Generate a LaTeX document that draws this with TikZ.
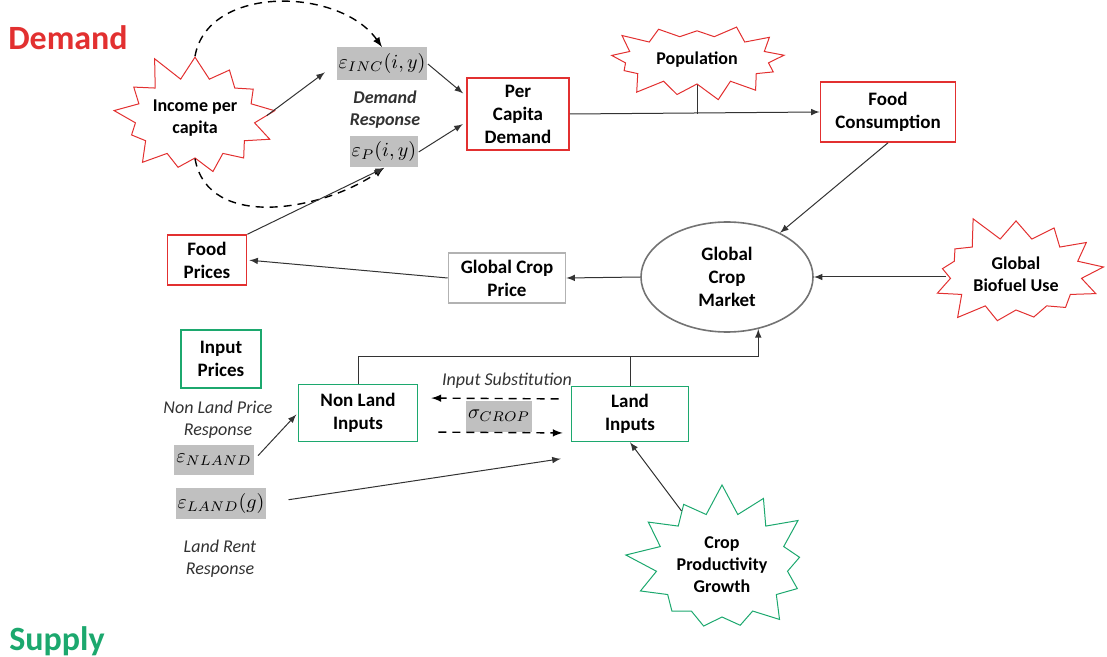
\documentclass[tikz,border=0pt]{standalone}
\usepackage{fontspec}
\setmainfont{Carlito}
\usetikzlibrary{arrows}
\usetikzlibrary{shapes}

\definecolor{demandred}{RGB}{226,48,48}
\definecolor{supplygreen}{RGB}{28,168,110}
\definecolor{elasgray}{RGB}{192,192,192}
\definecolor{pricegray}{RGB}{178,178,178}
\definecolor{notegray}{RGB}{50,50,50}

\tikzset{
  redbox/.style={draw=demandred, line width=0.8pt, align=center, font=\fontsize{9.5}{11.5}\selectfont\bfseries},
  greenbox/.style={draw=supplygreen, line width=0.8pt, align=center, font=\fontsize{9.5}{11.5}\selectfont\bfseries},
  greybox/.style={draw=pricegray, line width=0.8pt, align=center, font=\fontsize{9.5}{11.5}\selectfont\bfseries},
  elas/.style={fill=elasgray, inner sep=1pt, font=\fontsize{10}{12}\selectfont},
  shock/.style={starburst, starburst points=13, draw=#1, line width=0.5pt,
    align=center, inner sep=0pt, font=\fontsize{9}{11}\selectfont\bfseries},
  note/.style={align=center, text=notegray, font=\fontsize{9}{11}\selectfont\itshape},
  title/.style={font=\fontsize{17}{20}\selectfont\bfseries},
  arr/.style={-latex, line width=0.5pt, draw=black!80},
  dasharr/.style={-latex, dashed, dash pattern=on 4pt off 3pt, line width=0.7pt}
}

\begin{document}
\begin{tikzpicture}[x=0.5pt,y=-0.5pt]
    \useasboundingbox (0,0) rectangle (1107,657);

    % titles
    \node[title, text=demandred] (dem) at (68,38) {Demand};
    \node[title, text=supplygreen] (sup) at (57,641) {Supply};

    % demand side
    \node[shock=demandred, starburst point height=14pt, minimum width=88pt, minimum height=68pt, random starburst=11] (inc) at (195,118) {Income per\\capita};
    \node[elas, minimum width=35pt, minimum height=16.5pt] (einc) at (382,64) {$\varepsilon_{INC}(i,y)$};
    \node[note, font=\fontsize{9}{11}\selectfont\bfseries\itshape] (dr) at (385,110) {Demand\\Response};
    \node[elas, minimum width=30.5pt, minimum height=15.5pt] (ep) at (384,152) {$\varepsilon_{P}(i,y)$};
    \node[redbox, minimum width=51pt, minimum height=33pt] (pcd) at (518,114) {Per\\Capita\\Demand};
    \node[shock=demandred, starburst point height=10pt, minimum width=92pt, minimum height=44pt, random starburst=23] (pop) at (697,60) {Population};
    \node[redbox, minimum width=67.5pt, minimum height=30pt] (fc) at (888,112) {Food\\Consumption};

    % market
    \node[ellipse, draw=black!55, line width=0.8pt, minimum width=86pt, minimum height=55pt, align=center,
      font=\fontsize{9.5}{11.5}\selectfont\bfseries] (gcm) at (727,277) {Global\\Crop\\Market};
    \node[shock=demandred, starburst point height=14pt, minimum width=94pt, minimum height=64pt, random starburst=5] (gbu) at (1016,274) {Global\\Biofuel Use};
    \node[greybox, minimum width=58.5pt, minimum height=24.5pt] (gcp) at (507,278) {Global Crop\\Price};
    \node[redbox, minimum width=39.5pt, minimum height=24pt] (fp) at (207,260) {Food\\Prices};

    % supply side
    \node[greenbox, minimum width=40pt, minimum height=29pt] (ip) at (221,359) {Input\\Prices};
    \node[greenbox, minimum width=59.5pt, minimum height=28.5pt] (nli) at (358,413) {Non Land\\Inputs};
    \node[greenbox, minimum width=58.5pt, minimum height=27.5pt] (li) at (630,414) {Land\\Inputs};
    \node[note] (isub) at (507,381) {Input Substitution};
    \node[elas, minimum width=26pt, minimum height=15.5pt] (sig) at (499,416) {$\sigma_{CROP}$};
    \node[note] (nlpr) at (218,420) {Non Land Price\\Response};
    \node[elas, minimum width=28.5pt, minimum height=15pt] (enl) at (214,460) {$\varepsilon_{NLAND}$};
    \node[elas, minimum width=36pt, minimum height=15.5pt] (el) at (221,503) {$\varepsilon_{LAND}(g)$};
    \node[note] (lrr) at (220,559) {Land Rent\\Response};
    \node[shock=supplygreen, starburst point height=16pt, minimum width=98pt, minimum height=84pt, random starburst=17] (cpg) at (722,565) {Crop\\Productivity\\Growth};

    % demand connectors
    \draw[arr, shorten <=2pt, shorten >=7pt] (inc.east) -- (einc.west);
    \draw[dasharr] (inc.north) to[out=80, in=125] (einc.north);
    \draw[dasharr] (inc.south) to[out=-80, in=-145] (ep.south);
    \draw[arr] (fp.north east) -- (ep.south);
    \draw[arr, shorten >=2pt] (einc.east) -- ([yshift=9pt]pcd.west);
    \draw[arr, shorten >=2pt] (ep.east) -- ([yshift=-4pt]pcd.west);
    \draw[arr] (pcd.east) -- (fc.west);
    \draw[line width=0.5pt, draw=black!80] (pop.south) -- (pop.south |- pcd.east);
    \draw[arr] (fc.south) -- (gcm);

    % market connectors
    \draw[arr] (gbu.west |- gcm.east) -- (gcm.east);
    \draw[arr] (gcm.west) -- (gcp.east);
    \draw[arr, shorten >=1pt] (gcp.west) -- (fp.east);

    % supply connectors
    \coordinate (join) at (gcm.-59 |- 0,357);
    \draw[arr] (nli.north) |- (join) -- (gcm.-59);
    \draw[line width=0.5pt, draw=black!80] (li.north) -- (li.north |- join);
    \draw[dasharr, shorten <=6pt, shorten >=6.5pt] ([yshift=7.5pt]li.west) -- ([yshift=7.5pt]nli.east);
    \draw[dasharr, shorten <=10pt, shorten >=4pt] ([yshift=-9.5pt]nli.east) -- ([yshift=-9.5pt]li.west);
    \draw[arr, shorten <=3pt, shorten >=1pt] (enl.east) -- (nli.west);
    \draw[arr, shorten <=11pt, shorten >=5pt] (el.east) -- ([yshift=-7.5pt]li.south west);
    \draw[arr] (cpg) -- (li.south);
\end{tikzpicture}
\end{document}
